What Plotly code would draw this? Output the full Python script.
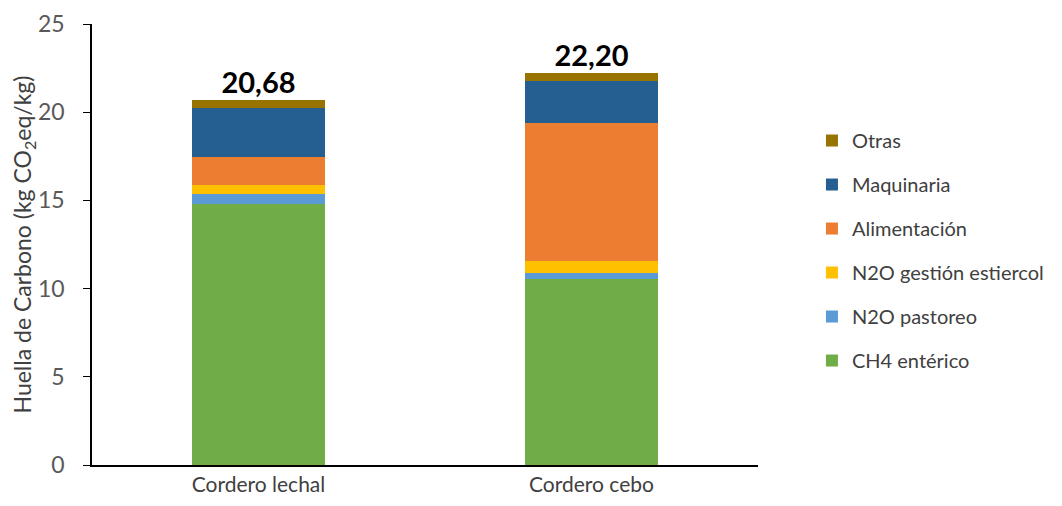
import plotly.graph_objects as go

categorias = ["Cordero lechal", "Cordero cebo"]

ch4_enterico = [14.80, 10.53]
n2o_pastoreo = [0.56, 0.37]
n2o_estiercol = [0.51, 0.66]
alimentacion = [1.57, 7.83]
maquinaria = [2.82, 2.38]
otras = [0.42, 0.43]

totales = [20.68, 22.20]

series = [
    ("CH4 entérico", ch4_enterico, "#70AD47"),
    ("N2O pastoreo", n2o_pastoreo, "#5B9BD5"),
    ("N2O gestión estiercol", n2o_estiercol, "#FFC000"),
    ("Alimentación", alimentacion, "#ED7D31"),
    ("Maquinaria", maquinaria, "#255E91"),
    ("Otras", otras, "#997300"),
]

fig = go.Figure()
for i, (nombre, valores, color) in enumerate(series):
    fig.add_trace(go.Bar(
        x=categorias, y=valores, name=nombre,
        marker=dict(color=color, line=dict(width=0)),
        legendgroup=nombre,
        legendrank=len(series) - i,  # Otras arriba en la leyenda
    ))

# etiquetas de total encima de cada barra
fig.add_trace(go.Scatter(
    x=categorias, y=totales, mode="text",
    text=[f"{t:.2f}".replace(".", ",") for t in totales],
    textposition="top center",
    textfont=dict(family="Lato", size=29, color="black", weight="bold"),
    showlegend=False, hoverinfo="skip",
))

# la página añade 8px de margen (body), por eso 1046x490
fig.update_layout(
    barmode="stack",
    bargap=0.6,
    width=1046, height=490,
    margin=dict(l=84, r=296, t=16, b=33, autoexpand=False),
    plot_bgcolor="white",
    paper_bgcolor="white",
    font=dict(family="Lato", size=22, color="#595959"),
    showlegend=True,
    legend=dict(
        x=1.081, y=0.78, xanchor="left", yanchor="top",
        traceorder="grouped",
        tracegroupgap=15,
        font=dict(size=20, color="#404040"),
        itemwidth=30,
    ),
    xaxis=dict(
        showline=True, linecolor="black", linewidth=1.5,
        ticks="", showgrid=False, automargin=False,
        tickfont=dict(size=21, color="#404040"),
        ticklabelstandoff=0,
    ),
    yaxis=dict(
        range=[0, 25], dtick=5,
        showline=True, linecolor="black", linewidth=1.5,
        ticks="outside", ticklen=7, tickcolor="black",
        showgrid=False, zeroline=False, automargin=False,
        tickfont=dict(size=23, color="#595959"),
        ticklabelstandoff=14,
        title=dict(text="Huella de Carbono (kg CO<sub>2</sub>eq/kg)",
                   font=dict(size=23, color="#404040"), standoff=8),
    ),
)

fig.write_html("out.html")
